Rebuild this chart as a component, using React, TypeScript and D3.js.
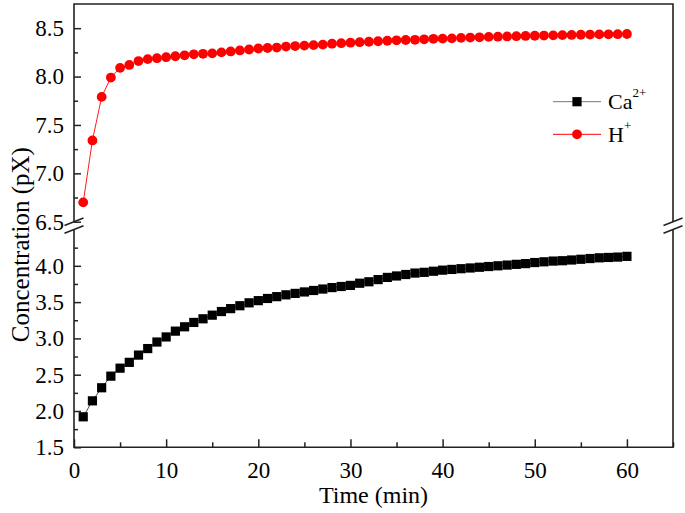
import React, { useRef, useEffect } from 'react';
import * as d3 from 'd3';

// time in minutes
const time = d3.range(1, 61);

// H+ concentration (pX), upper segment
const hValues = [
  6.70, 7.34, 7.79, 7.99, 8.09, 8.12, 8.16, 8.18, 8.19, 8.20,
  8.21, 8.22, 8.23, 8.235, 8.24, 8.25, 8.26, 8.27, 8.28, 8.29,
  8.295, 8.30, 8.31, 8.315, 8.32, 8.325, 8.33, 8.34, 8.345, 8.35,
  8.355, 8.36, 8.365, 8.37, 8.375, 8.378, 8.38, 8.385, 8.39, 8.392,
  8.395, 8.40, 8.403, 8.406, 8.41, 8.412, 8.415, 8.417, 8.42, 8.422,
  8.424, 8.426, 8.428, 8.43, 8.432, 8.434, 8.436, 8.437, 8.438, 8.44,
];

// Ca2+ concentration (pX), lower segment
const caValues = [
  1.92, 2.14, 2.32, 2.48, 2.59, 2.67, 2.77, 2.86, 2.95, 3.02,
  3.10, 3.16, 3.22, 3.27, 3.32, 3.37, 3.41, 3.45, 3.49, 3.52,
  3.55, 3.575, 3.60, 3.62, 3.64, 3.66, 3.68, 3.70, 3.715, 3.73,
  3.76, 3.78, 3.81, 3.84, 3.86, 3.88, 3.90, 3.91, 3.925, 3.94,
  3.95, 3.96, 3.97, 3.98, 3.99, 4.00, 4.01, 4.02, 4.03, 4.045,
  4.055, 4.065, 4.07, 4.08, 4.09, 4.10, 4.11, 4.115, 4.12, 4.13,
];

const xTicks = [0, 10, 20, 30, 40, 50, 60];
const xMinor = [5, 15, 25, 35, 45, 55, 65];
const yTopTicks = [6.5, 7.0, 7.5, 8.0, 8.5];
const yTopMinor = [6.75, 7.25, 7.75, 8.25];
const yBotTicks = [1.5, 2.0, 2.5, 3.0, 3.5, 4.0];
const yBotMinor = [1.75, 2.25, 2.75, 3.25, 3.75, 4.25];

const FONT = "'Liberation Serif', 'Times New Roman', Times, serif";

const App = () => {
  const svgRef = useRef<SVGSVGElement>(null);

  useEffect(() => {
    const svg = d3.select(svgRef.current);
    svg.selectAll('*').remove();

    const left = 74, right = 673, top = 4, bottom = 447.3;
    const breakLow = 221.7, breakHigh = 229.5;

    const x = d3.scaleLinear().domain([0, 65]).range([left, right]);
    const yTop = d3.scaleLinear().domain([6.5, 8.75]).range([breakLow, top]);
    const yBot = d3.scaleLinear().domain([1.5, 4.5]).range([bottom, breakHigh]);

    const axisStyle = (g) => {
      g.attr('font-family', null).attr('font-size', null);
      g.select('.domain').remove();
      g.selectAll('line').attr('stroke', '#222').attr('stroke-width', 1.5);
      g.selectAll('text')
        .style('font-family', FONT)
        .style('font-size', '23px')
        .attr('fill', '#000');
    };

    // X axis (inward ticks)
    svg.append('g')
      .attr('transform', `translate(0,${bottom})`)
      .call(d3.axisBottom(x).tickValues(xTicks).tickSize(-8).tickPadding(14).tickFormat(d3.format('d')))
      .call(axisStyle);
    svg.append('g')
      .attr('transform', `translate(0,${bottom})`)
      .call(d3.axisBottom(x).tickValues(xMinor).tickSize(-5).tickFormat(() => ''))
      .call(axisStyle);

    // Y axes, one per segment
    const addY = (scale, major, minor) => {
      svg.append('g')
        .attr('transform', `translate(${left},0)`)
        .call(d3.axisLeft(scale).tickValues(major).tickSize(-7).tickPadding(10).tickFormat(d3.format('.1f')))
        .call(axisStyle);
      svg.append('g')
        .attr('transform', `translate(${left},0)`)
        .call(d3.axisLeft(scale).tickValues(minor).tickSize(-4).tickFormat(() => ''))
        .call(axisStyle);
    };
    addY(yTop, yTopTicks, yTopMinor);
    addY(yBot, yBotTicks, yBotMinor);

    // Frame with break
    const frame = svg.append('g')
      .attr('fill', 'none')
      .attr('stroke', '#222')
      .attr('stroke-width', 1.6);
    frame.append('path').attr('d', `M${left},${breakLow}V${top}H${right}V${breakLow}`);
    frame.append('path').attr('d', `M${left},${breakHigh}V${bottom}H${right}V${breakHigh}`);
    [left, right].forEach((bx) => {
      [breakLow, breakHigh].forEach((by) => {
        frame.append('line')
          .attr('x1', bx - 9.5).attr('y1', by + 3.7)
          .attr('x2', bx + 9.5).attr('y2', by - 3.7);
      });
    });

    // Ca2+ series
    const caData = time.map((t, i) => [t, caValues[i]]);
    svg.append('path')
      .datum(caData)
      .attr('fill', 'none')
      .attr('stroke', '#333')
      .attr('stroke-width', 0.9)
      .attr('d', d3.line().x((d) => x(d[0])).y((d) => yBot(d[1])));
    svg.append('g')
      .selectAll('rect')
      .data(caData)
      .join('rect')
      .attr('x', (d) => x(d[0]) - 4.6)
      .attr('y', (d) => yBot(d[1]) - 4.6)
      .attr('width', 9.2)
      .attr('height', 9.2)
      .attr('fill', '#000');

    // H+ series
    const hData = time.map((t, i) => [t, hValues[i]]);
    svg.append('path')
      .datum(hData)
      .attr('fill', 'none')
      .attr('stroke', '#ff0000')
      .attr('stroke-width', 0.9)
      .attr('d', d3.line().x((d) => x(d[0])).y((d) => yTop(d[1])));
    svg.append('g')
      .selectAll('circle')
      .data(hData)
      .join('circle')
      .attr('cx', (d) => x(d[0]))
      .attr('cy', (d) => yTop(d[1]))
      .attr('r', 4.9)
      .attr('fill', '#ff0000');

    // Axis titles
    svg.append('text')
      .attr('x', (left + right) / 2)
      .attr('y', 503)
      .attr('text-anchor', 'middle')
      .style('font-family', FONT)
      .style('font-size', '24px')
      .attr('fill', '#000')
      .text('Time (min)');
    svg.append('text')
      .attr('transform', `translate(29,${(top + bottom) / 2 + 19}) rotate(-90)`)
      .attr('text-anchor', 'middle')
      .style('font-family', FONT)
      .style('font-size', '25px')
      .attr('fill', '#000')
      .text('Concentration (pX)');

    // Legend
    const legend = svg.append('g').style('font-family', FONT).attr('fill', '#000');
    const lg1 = 101.7, lg2 = 134.3;
    legend.append('line').attr('x1', 553).attr('x2', 601).attr('y1', lg1).attr('y2', lg1)
      .attr('stroke', '#777').attr('stroke-width', 1);
    legend.append('rect').attr('x', 577 - 4.6).attr('y', lg1 - 4.6).attr('width', 9.2).attr('height', 9.2).attr('fill', '#000');
    const t1 = legend.append('text').attr('x', 608).attr('y', lg1 + 7.5).style('font-size', '22px');
    t1.append('tspan').text('Ca');
    t1.append('tspan').attr('dy', -12).style('font-size', '13px').text('2+');

    legend.append('line').attr('x1', 553).attr('x2', 601).attr('y1', lg2).attr('y2', lg2)
      .attr('stroke', '#ff0000').attr('stroke-width', 1);
    legend.append('circle').attr('cx', 577).attr('cy', lg2).attr('r', 4.9).attr('fill', '#ff0000');
    const t2 = legend.append('text').attr('x', 608).attr('y', lg2 + 7.5).style('font-size', '22px');
    t2.append('tspan').text('H');
    t2.append('tspan').attr('dy', -12).style('font-size', '13px').text('+');
  }, []);

  return (
    <svg
      ref={svgRef}
      width={685}
      height={513}
      style={{ position: 'absolute', left: 0, top: 0, background: '#fff' }}
    />
  );
};

export default App;
